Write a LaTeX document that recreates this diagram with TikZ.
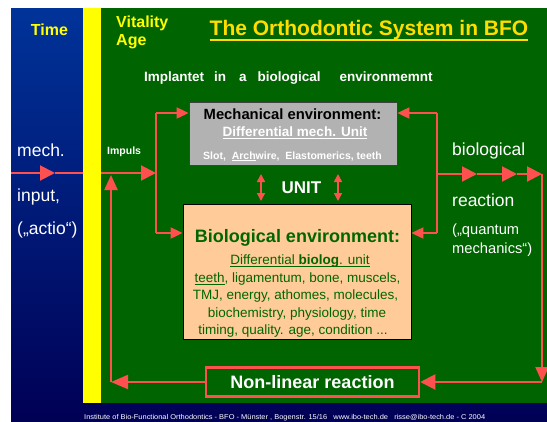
\documentclass[tikz,border=0pt]{standalone}
\usepackage{fontspec}
\setmainfont{Liberation Sans}
\usetikzlibrary{arrows.meta}
\definecolor{bgblueT}{RGB}{0,51,153}
\definecolor{bgblueB}{RGB}{0,0,85}
\definecolor{bfogreen}{RGB}{0,100,0}
\definecolor{bfored}{RGB}{255,80,80}
\definecolor{bfoyellow}{RGB}{255,255,0}
\definecolor{titleyellow}{RGB}{255,221,0}
\definecolor{mechgray}{RGB}{178,178,178}
\definecolor{biopeach}{RGB}{255,204,153}
\definecolor{biotext}{RGB}{0,102,0}
\newcommand\myul[3]{{\setbox0=\hbox{#3}\rlap{\rule[-#1]{\wd0}{#2}}\box0}}
\newcommand\fs[1]{\fontsize{#1}{#1}\selectfont}
\begin{document}
\begin{tikzpicture}[x=1pt,y=-1pt,
  conn/.style={draw=bfored,line width=2pt},
  bigtip/.style={-{Triangle[length=15pt,width=15pt]}},
  midtip/.style={-{Triangle[length=12pt,width=11pt]}},
  dbltip/.style={{Triangle[length=8pt,width=8pt]}-{Triangle[length=8pt,width=8pt]}},
  txt/.style={inner sep=0pt,anchor=base},
  txtw/.style={inner sep=0pt,anchor=base west},
  boxnode/.style={draw,rectangle,inner sep=0pt},
]
\useasboundingbox (0,0) rectangle (547,421);
% backgrounds
\shade[top color=bgblueT,bottom color=bgblueB] (11,8) rectangle (547,421);
\fill[bfogreen] (101,8) rectangle (547,403);
\fill[bfoyellow] (83,8) rectangle (101,403);

% header texts
\node[txt,text=bfoyellow,font=\bfseries\fs{16}] (time) at (49.5,35) {Time};
\node[txtw,text=bfoyellow,font=\bfseries\fs{16}] (vit) at (116,27) {Vitality};
\node[txtw,text=bfoyellow,font=\bfseries\fs{16}] (age) at (116,45) {Age};
\node[txt,text=titleyellow,font=\bfseries\fs{21}] (title) at (369,35) {\myul{5.7pt}{2.2pt}{The Orthodontic System in BFO}};
\node[txtw,text=white,font=\bfseries\fs{13.5}] (impl) at (144,81.5)
  {Implantet\hspace{10pt}in\hspace{13pt}a\hspace{11pt}biological\hspace{19pt}environmemnt};

% boxes
\node[boxnode,fill=mechgray,draw=black!75,line width=0.8pt,minimum width=208pt,minimum height=63pt] (mech) at (293,133.5) {};
\node[boxnode,fill=biopeach,draw=black,line width=0.8pt,minimum width=228pt,minimum height=135pt] (bio) at (297,271.5) {};
\node[boxnode,fill=bfogreen,draw=bfored,line width=2.5pt,minimum width=213pt,minimum height=29pt] (nonlin) at (312.5,382) {};

% mech texts
\node[txt,text=black,font=\bfseries\fs{14.8}] (mt1) at (292.5,119.3) {Mechanical environment:};
\node[txt,text=white,font=\bfseries\fs{13.5}] (mt2) at (295,136) {\myul{2.7pt}{1pt}{Differential mech. Unit}};
\node[txt,text=white,font=\bfseries\fs{10.5}] (mt3) at (292.5,159) {Slot,\ \ \myul{1.6pt}{0.8pt}{Arch}wire,\ \ Elastomerics, teeth};

% UNIT
\node[txt,text=white,font=\bfseries\fs{17}] (unit) at (301.5,193.3) {UNIT};
\coordinate (ua1) at (261,174);
\coordinate (ub1) at (261,201);
\coordinate (ua2) at (338,174);
\coordinate (ub2) at (338,201);
\draw[conn,line width=1.6pt,dbltip] (ua1) -- (ub1);
\draw[conn,line width=1.6pt,dbltip] (ua2) -- (ub2);

% bio texts
\node[txt,text=biotext,font=\bfseries\fs{18}] (bt1) at (297.5,242.7) {Biological environment:};
\node[txt,text=biotext,font=\fs{13.5}] (bt2) at (300,264.3) {\myul{3pt}{1pt}{Differential \textbf{biolog}. unit}};
\node[txt,text=biotext,font=\fs{13.5}] (bt3) at (297.5,282) {\myul{2.8pt}{1pt}{teeth}, ligamentum, bone, muscels,};
\node[txt,text=biotext,font=\fs{13.5}] (bt4) at (295.5,299.8) {TMJ, energy, athomes, molecules,};
\node[txt,text=biotext,font=\fs{13.5}] (bt5) at (297,317.3) {biochemistry, physiology, time};
\node[txt,text=biotext,font=\fs{13.5}] (bt6) at (293,334) {timing, quality. age, condition ...};

% non-linear
\node[txt,text=white,font=\bfseries\fs{18}] (nlt) at (312.5,388.3) {Non-linear reaction};

% left texts
\node[txtw,text=white,font=\fs{17.5}] (lt1) at (17,156.7) {mech.};
\node[txtw,text=white,font=\fs{17.5}] (lt2) at (17,201) {input,};
\node[txtw,text=white,font=\fs{17.5}] (lt3) at (17,234) {(„actio“)};
\node[txtw,text=white,font=\bfseries\fs{10.5}] (imp) at (107,154) {Impuls};

% right texts
\node[txtw,text=white,font=\fs{17.5}] (rt1) at (452,155.7) {biological};
\node[txtw,text=white,font=\fs{17.5}] (rt2) at (452,206) {reaction};
\node[txtw,text=white,font=\fs{14.7}] (rt3) at (452,234.3) {(„quantum};
\node[txtw,text=white,font=\fs{14.7}] (rt4) at (452,253.3) {mechanics“)};

% footer
\node[txtw,text=white,font=\fs{7}] (foot) at (84,419) {\resizebox{401pt}{\height}{Institute of Bio-Functional Orthodontics - BFO - Münster , Bogenstr. 15/16\ \ \ www.ibo-tech.de\ \ \ risse@ibo-tech.de - C 2004}};

% connector coordinates
\coordinate (inL) at (11,173);
\coordinate (inM) at (55,173);
\coordinate (inY) at (83,173);
\coordinate (gY) at (101,173);
\coordinate (split) at (156,173);
\coordinate (splitT) at (156,113);
\coordinate (splitB) at (156,233);
\coordinate (rsplit) at (437,174);
\coordinate (rsplitT) at (437,113);
\coordinate (rsplitB) at (437,233);
\coordinate (m1) at (477,174);
\coordinate (m2) at (517,174);
\coordinate (rc) at (542,174);
\coordinate (rcb) at (542,382);
\coordinate (lcb) at (111,382);
\coordinate (lct) at (111,175);

% left input
\draw[conn,bigtip] (inL) -- (inM);
\draw[conn] (inM) -- (inY);
\draw[conn,bigtip] (gY) -- (split);
\draw[conn] (splitT) -- (splitB);
\draw[conn,midtip] (splitT) -- (splitT -| mech.west);
\draw[conn,midtip] (splitB) -- (splitB -| bio.west);
% right
\draw[conn] (rsplitT) -- (rsplitB);
\draw[conn,midtip] (rsplitT) -- (rsplitT -| mech.east);
\draw[conn,midtip] (rsplitB) -- (rsplitB -| bio.east);
\draw[conn,bigtip] (rsplit) -- (m1);
\draw[conn,bigtip] (m1) -- (m2);
\draw[conn,bigtip] (m2) -- (rc);
\draw[conn,-{Triangle[length=15pt,width=13pt]}] (rc) -- (rcb);
\draw[conn,bigtip] (rcb) -- (nonlin.east);
\draw[conn,-{Triangle[length=17pt,width=14pt]}] (nonlin.west) -- (lcb);
\draw[conn,-{Triangle[length=15pt,width=13pt]}] (lcb) -- (lct);
\end{tikzpicture}
\end{document}
